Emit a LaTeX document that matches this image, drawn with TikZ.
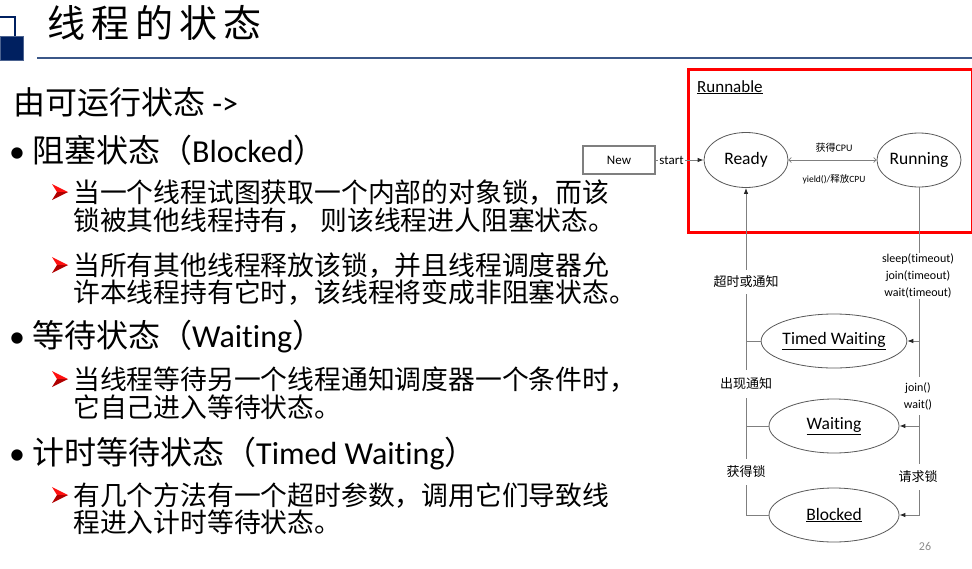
\documentclass[tikz,border=0pt]{standalone}
\usepackage{fontspec}
\setmainfont{Carlito}[Ligatures=NoCommon]
\newfontfamily\cjk{Noto Sans CJK SC}
\newfontfamily\cjktitle{Noto Sans CJK SC}[LetterSpace=16]
\usetikzlibrary{shapes.geometric,arrows.meta}
\definecolor{navy}{HTML}{002060}
\definecolor{rulecol}{HTML}{3B5788}
\definecolor{linegray}{HTML}{7F7F7F}
\definecolor{ellgray}{HTML}{595959}
\definecolor{tipcol}{HTML}{262626}
\definecolor{arrred}{HTML}{FF1010}
\definecolor{arrdark}{HTML}{B00000}
\definecolor{pagegray}{HTML}{8C8C8C}
\newcommand\redarrow[1]{%
  \fill[arrred,shift={(#1)}] (-8,-8) -- (8,0) -- (-3,0) -- cycle;
  \fill[arrdark,shift={(#1)}] (-8,8) -- (8,0) -- (-3,0) -- cycle;}
\tikzset{
  headtxt/.style={anchor=base west, inner sep=0, font=\fontsize{32}{36}\selectfont},
  subtxt/.style={anchor=base west, inner sep=0, font=\cjk\fontsize{26.8}{30}\selectfont},
  state/.style={ellipse, draw=ellgray, line width=0.8, inner sep=0,
    minimum width=84, minimum height=55, font=\fontsize{17.5}{20}\selectfont},
  bigstate/.style={state, minimum width=130, minimum height=54},
  trunk/.style={draw=linegray, line width=0.9},
  tip/.style={-{Latex[length=6,width=4.5,color=tipcol]}},
  lab/.style={fill=white, inner xsep=2, inner ysep=6, font=\cjk\fontsize{13}{15}\selectfont},
  mlab/.style={fill=white, inner xsep=2, inner ysep=1, align=center, font=\fontsize{12}{17}\selectfont},
}
\begin{document}
\begin{tikzpicture}[x=1pt,y=-1pt]
\useasboundingbox (0,0) rectangle (972,568);
\fill[white] (0,0) rectangle (972,568);
% title decoration
\draw[navy, line width=1.5] (-3,17) rectangle (15,42);
\fill[navy] (1,37) rectangle (23,60);
\draw[navy!70, line width=0.8] (0.6,36.6) rectangle (23.4,60.4);
\draw[rulecol, line width=2] (37,57.5) -- (972,57.5);
\node[anchor=base west, inner sep=0, font=\cjktitle\fontsize{38}{40}\selectfont] (title) at (47,37) {线程的状态};
% left text
\node[headtxt] (h0) at (13,114.5) {{\cjk 由可运行状态} ->};
\node[headtxt] (b1) at (9,162) {•};
\node[headtxt] (h1) at (32,162) {{\cjk 阻塞状态（}Blocked{\cjk ）}};
\redarrow{60,192}
\node[subtxt] (s11) at (73,202) {当一个线程试图获取一个内部的对象锁，而该};
\node[subtxt] (s12) at (73,230) {锁被其他线程持有， 则该线程进人阻塞状态。};
\redarrow{60,265}
\node[subtxt] (s21) at (73,275) {当所有其他线程释放该锁，并且线程调度器允};
\node[subtxt] (s22) at (73,302) {许本线程持有它时，该线程将变成非阻塞状态。};
\node[headtxt] (b2) at (9,347) {•};
\node[headtxt] (h2) at (32,347) {{\cjk 等待状态（}Waiting{\cjk ）}};
\redarrow{60,379}
\node[subtxt] (s31) at (73,389) {当线程等待另一个线程通知调度器一个条件时，};
\node[subtxt] (s32) at (73,417) {它自己进入等待状态。};
\node[headtxt] (b3) at (9,464) {•};
\node[headtxt] (h3) at (32,464) {{\cjk 计时等待状态（}Timed Waiting{\cjk ）}};
\redarrow{60,495}
\node[subtxt] (s41) at (73,505) {有几个方法有一个超时参数，调用它们导致线};
\node[subtxt] (s42) at (73,532) {程进入计时等待状态。};
% diagram
\draw[red, line width=3] (688.5,69.5) rectangle (972.5,232);
\node[anchor=base west, inner sep=0, font=\fontsize{17}{20}\selectfont] (runnable) at (697,92) {\underline{Runnable}};
\node[draw=linegray, line width=1.5, minimum width=72, minimum height=28, inner sep=0,
  font=\fontsize{13}{15}\selectfont] (new) at (619,160) {New};
\node[state] (ready) at (746,160) {Ready};
\node[state, minimum height=54] (running) at (919,160) {Running};
\node[bigstate] (tw) at (834,341) {\underline{Timed Waiting}};
\node[bigstate] (wt) at (834,426) {\underline{Waiting}};
\node[bigstate] (bl) at (834,515) {\underline{Blocked}};
\draw[trunk, tip] (new) -- node[pos=0.33, fill=white, inner xsep=1.5, inner ysep=1,
  font=\fontsize{13}{15}\selectfont] (startlab) {start} (ready);
\draw[trunk, line width=0.7, {Straight Barb[length=2.5,width=5]}-{Straight Barb[length=2.5,width=5]}] (ready) -- (running);
\node[font=\fontsize{10}{12}\selectfont, inner sep=0] (getcpu) at (834,148) {{\cjk 获得}CPU};
\node[font=\fontsize{9.5}{12}\selectfont, inner sep=0] (yieldcpu) at (834,179) {yield()/{\cjk 释放}CPU};
\draw[trunk, tip] (bl.west) -| (ready.south);
\draw[trunk, tip] (running.south) |- (bl.east);
\draw[trunk] (ready.south |- tw.west) -- (tw.west);
\draw[trunk] (ready.south |- wt.west) -- (wt.west);
\draw[trunk, tip] (running.south |- tw.east) -- (tw.east);
\draw[trunk, tip] (running.south |- wt.east) -- (wt.east);
\node[lab] (l1) at (746,282) {超时或通知};
\node[lab, inner ysep=8] (l2) at (746,384) {出现通知};
\node[lab, inner ysep=7] (l3) at (746,472) {获得锁};
\node[lab, inner ysep=7] (r3) at (918,477) {请求锁};
\node[mlab] (r1) at (918,276) {sleep(timeout)\\join(timeout)\\wait(timeout)};
\node[mlab, inner ysep=5] (r2) at (918,396) {join()\\wait()};
\node[font=\fontsize{12}{14}\selectfont, text=pagegray, inner sep=0] (page) at (925,546) {26};
\end{tikzpicture}
\end{document}
